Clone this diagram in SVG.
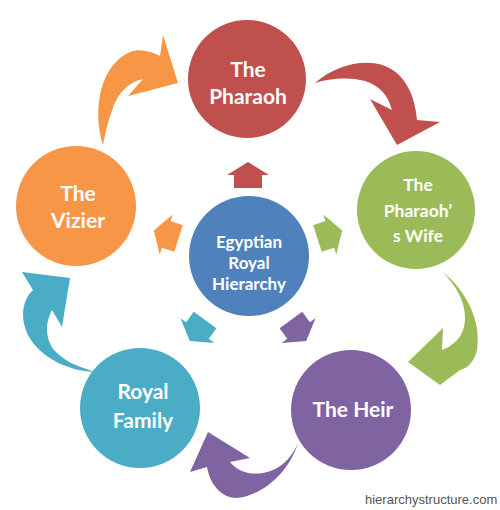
<svg xmlns="http://www.w3.org/2000/svg" width="500" height="510" viewBox="0 0 500 510">
<style>
.lbl{font-family:Lato,"Open Sans","Liberation Sans",sans-serif;font-weight:bold;fill:#fff;text-anchor:middle}
.wm{font-family:"Liberation Sans",Arial,sans-serif;font-size:13px;fill:#555}
</style>
<defs>
<path id="house" d="M0,-13 L21,0 L14,0 L14,13 L-14,13 L-14,0 L-21,0 Z"/>
</defs>
<rect width="500" height="510" fill="#fff"/>
<g id="connectors">
<path fill="#F79646" d="M103,145 C92,110 100,65 130,52 C140,48 152,52 160,56 L163,35 L178,83 L128,96 L143,79 C128,82 117,95 113,108 C108,120 105,135 103,145 Z"/>
<path fill="#C0504D" d="M315,83 C335,65 365,58 385,66 C405,74 415,95 417,120 L440,122 L397,145 L370,99 L392,110 C388,95 380,86 365,81 C350,77 330,78 315,83 Z"/>
<path fill="#9BBB59" d="M443,272 C465,290 482,320 477,350 C474,362 468,368 460,370 L440,385 L408,362 L443,328 L442,350 C455,345 465,335 465,318 C465,300 455,285 443,272 Z"/>
<path fill="#8064A2" d="M298,443 C290,470 265,495 237,498 C222,498 210,485 207,467 L190,472 L208,432 L250,458 L230,462 C238,472 250,475 263,473 C280,470 292,458 298,443 Z"/>
<path fill="#4BACC6" d="M97,372 C70,372 40,358 28,335 C20,318 22,300 33,290 L22,272 L70,278 L62,327 L52,310 C44,325 46,342 56,352 C66,362 80,368 97,372 Z"/>
<use href="#house" fill="#C0504D" transform="translate(248,261) rotate(0) translate(0,-86)"/>
<use href="#house" fill="#9BBB59" transform="translate(248,261) rotate(72) translate(0,-86)"/>
<use href="#house" fill="#8064A2" transform="translate(248,261) rotate(144) translate(0,-86)"/>
<use href="#house" fill="#4BACC6" transform="translate(248,261) rotate(216) translate(0,-86)"/>
<use href="#house" fill="#F79646" transform="translate(248,261) rotate(288) translate(0,-86)"/>
</g>
<g id="center">
<circle cx="249" cy="256" r="60" fill="#4F81BD"/>
<text class="lbl" font-size="17"><tspan x="249" y="248">Egyptian</tspan><tspan x="249" y="269">Royal</tspan><tspan x="249" y="290">Hierarchy</tspan></text>
</g>
<g id="pharaoh">
<circle cx="247" cy="79" r="59" fill="#C0504D"/>
<text class="lbl" font-size="21"><tspan x="248" y="77">The</tspan><tspan x="248" y="104">Pharaoh</tspan></text>
</g>
<g id="wife">
<circle cx="416" cy="210" r="59" fill="#9BBB59"/>
<text class="lbl" font-size="17.5"><tspan x="418" y="191">The</tspan><tspan x="418" y="217">Pharaoh’</tspan><tspan x="418" y="242">s Wife</tspan></text>
</g>
<g id="heir">
<circle cx="351" cy="410" r="60" fill="#8064A2"/>
<text class="lbl" font-size="21"><tspan x="353" y="417">The Heir</tspan></text>
</g>
<g id="family">
<circle cx="140" cy="408" r="60" fill="#4BACC6"/>
<text class="lbl" font-size="21"><tspan x="143" y="399">Royal</tspan><tspan x="143" y="428">Family</tspan></text>
</g>
<g id="vizier">
<circle cx="76" cy="206" r="60" fill="#F79646"/>
<text class="lbl" font-size="21"><tspan x="78" y="201">The</tspan><tspan x="78" y="228">Vizier</tspan></text>
</g>
<text class="wm" x="365" y="504">hierarchystructure.com</text>
</svg>
